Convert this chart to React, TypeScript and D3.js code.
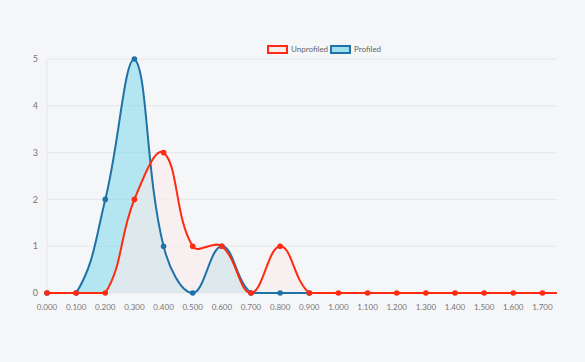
import React from "react";
import * as d3 from "d3";

const xValues = [0, 0.1, 0.2, 0.3, 0.4, 0.5, 0.6, 0.7, 0.8, 0.9, 1.0, 1.1, 1.2, 1.3, 1.4, 1.5, 1.6, 1.7];
const unprofiled = [0, 0, 0, 2, 3, 1, 1, 0, 1, 0, 0, 0, 0, 0, 0, 0, 0, 0];
const profiled = [0, 0, 2, 5, 1, 0, 1, 0, 0, 0];
const yTicks = [0, 1, 2, 3, 4, 5];
const seriesNames = ["Unprofiled", "Profiled"];

const W = 585, H = 362;
const L = 47, R = 557, T = 59, B = 293;
const xMax = 1.75;

const x = d3.scaleLinear().domain([0, xMax]).range([L, R]);
const y = d3.scaleLinear().domain([0, 5]).range([B, T]);

type P = { x: number; y: number };

function splinePath(pts: P[], closeToBase: boolean): string {
  const t = 0.4;
  const cap = (v: number, lo: number, hi: number) => Math.max(Math.min(v, hi), lo);
  const cps = pts.map((cur, i) => {
    const prev = pts[i - 1] || cur;
    const next = pts[i + 1] || cur;
    const d01 = Math.hypot(cur.x - prev.x, cur.y - prev.y);
    const d12 = Math.hypot(next.x - cur.x, next.y - cur.y);
    let s01 = d01 / (d01 + d12);
    let s12 = d12 / (d01 + d12);
    if (isNaN(s01)) s01 = 0;
    if (isNaN(s12)) s12 = 0;
    const fa = t * s01, fb = t * s12;
    return {
      px: cap(cur.x - fa * (next.x - prev.x), L, R),
      py: cap(cur.y - fa * (next.y - prev.y), T, B),
      nx: cap(cur.x + fb * (next.x - prev.x), L, R),
      ny: cap(cur.y + fb * (next.y - prev.y), T, B),
    };
  });
  const p = d3.path();
  p.moveTo(pts[0].x, pts[0].y);
  for (let i = 1; i < pts.length; i++) {
    p.bezierCurveTo(cps[i - 1].nx, cps[i - 1].ny, cps[i].px, cps[i].py, pts[i].x, pts[i].y);
  }
  if (closeToBase) {
    p.lineTo(pts[pts.length - 1].x, y(0));
    p.lineTo(pts[0].x, y(0));
    p.closePath();
  }
  return p.toString();
}

const redPts: P[] = unprofiled.map((v, i) => ({ x: x(xValues[i]), y: y(v) }));
const redExt: P[] = [...redPts, { x: x(xMax), y: y(unprofiled[unprofiled.length - 1]) }];
const bluePts: P[] = profiled.map((v, i) => ({ x: x(xValues[i]), y: y(v) }));

const RED = "#ff2a10";
const BLUE = "#1f72a8";
const FONT = "Lato, 'Open Sans', sans-serif";

export default function App() {
  return (
    <svg width={W} height={H} style={{ position: "absolute", left: 0, top: 0, background: "#f5f6f8", display: "block" }}>
      <rect x={0} y={0} width={W} height={H} fill="#f5f6f8" />
      {yTicks.map((v) => (
        <g key={v}>
          <line x1={L} x2={R} y1={y(v)} y2={y(v)} stroke="#e6e7eb" strokeWidth={1} />
          <text x={38} y={y(v)} dy="0.35em" textAnchor="end" fontSize={9} fill="#777" fontFamily={FONT}>
            {v}
          </text>
        </g>
      ))}
      <line x1={L} x2={L} y1={T} y2={B} stroke="#e6e7eb" strokeWidth={1} />
      {xValues.map((v) => (
        <text key={v} x={x(v)} y={310} textAnchor="middle" fontSize={8} fill="#777" fontFamily={FONT}>
          {v.toFixed(3)}
        </text>
      ))}
      <path d={splinePath(bluePts, true)} fill="rgba(100,210,230,0.45)" />
      <path d={splinePath(redExt, true)} fill="rgba(250,235,235,0.6)" />
      <path d={splinePath(bluePts, false)} fill="none" stroke={BLUE} strokeWidth={2} />
      {bluePts.map((p, i) => (
        <circle key={i} cx={p.x} cy={p.y} r={2.8} fill={BLUE} />
      ))}
      <path d={splinePath(redExt, false)} fill="none" stroke={RED} strokeWidth={2} />
      {redPts.map((p, i) => (
        <circle key={i} cx={p.x} cy={p.y} r={2.8} fill={RED} />
      ))}
      <g fontFamily={FONT} fontSize={8} fill="#666">
        <rect x={268} y={46} width={19} height={7} fill="rgba(250,235,235,0.9)" stroke={RED} strokeWidth={2} />
        <text x={291} y={49.5} dy="0.35em">{seriesNames[0]}</text>
        <rect x={331} y={46} width={19} height={7} fill="rgba(100,210,230,0.6)" stroke={BLUE} strokeWidth={2} />
        <text x={354} y={49.5} dy="0.35em">{seriesNames[1]}</text>
      </g>
    </svg>
  );
}
